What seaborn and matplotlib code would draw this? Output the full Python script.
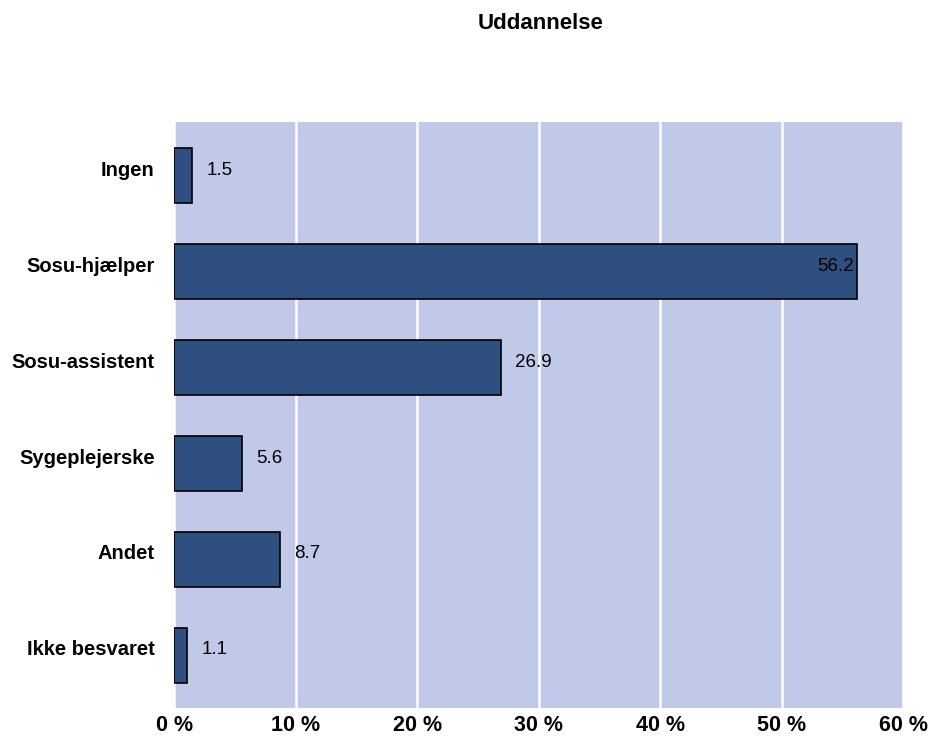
import pandas as pd
import matplotlib.pyplot as plt
import seaborn as sns

# data
categories = ['Ingen', 'Sosu-hjælper', 'Sosu-assistent', 'Sygeplejerske', 'Andet', 'Ikke besvaret']
values = [1.5, 56.2, 26.9, 5.6, 8.7, 1.1]
x_ticks = [0, 10, 20, 30, 40, 50, 60]
x_tick_labels = ['0 %', '10 %', '20 %', '30 %', '40 %', '50 %', '60 %']

df = pd.DataFrame({'uddannelse': categories, 'procent': values})

sns.set_theme(style="white")
plt.rcParams['font.family'] = ['Liberation Sans', 'DejaVu Sans']
plt.rcParams['text.color'] = 'black'
plt.rcParams['xtick.color'] = 'black'
plt.rcParams['ytick.color'] = 'black'

fig = plt.figure(figsize=(9.31, 7.4), dpi=100)
ax = fig.add_axes([0.187, 0.043, 0.783, 0.792])
ax.set_facecolor('#C0C9E7')

sns.barplot(x='procent', y='uddannelse', data=df, color='#2F4F80',
            edgecolor='black', linewidth=1.2, width=0.57, saturation=1, ax=ax)

ax.set_xlim(0, 60)
ax.set_ylim(5.55, -0.56)
ax.set_xticks(x_ticks)
ax.set_xticklabels(x_tick_labels, fontsize=15.5, fontweight='bold')
ax.tick_params(axis='y', length=0, labelleft=False)
ax.tick_params(axis='x', pad=5, length=0)
ax.xaxis.grid(True, color='white', linewidth=1.8)
ax.set_axisbelow(True)
for s in ax.spines.values():
    s.set_visible(False)
ax.set_xlabel('')
ax.set_ylabel('')

# category names, a little above the bar centre as in the reference
for i, cat in enumerate(categories):
    ax.annotate(cat, (0, i), xycoords=('axes fraction', 'data'), xytext=(-14, 4),
                textcoords='offset points', ha='right', va='center',
                fontsize=14.5, fontweight='bold')

for i, v in enumerate(values):
    if v > 40:
        ax.annotate(f'{v}', (v, i), xytext=(-2, 4), textcoords='offset points',
                    ha='right', va='center', fontsize=13.5, color='black')
    else:
        ax.annotate(f'{v}', (v, i), xytext=(10, 4), textcoords='offset points',
                    ha='left', va='center', fontsize=13.5, color='black')

fig.text(0.581, 0.968, 'Uddannelse', ha='center', va='center', fontsize=16, fontweight='bold')

fig.savefig('out.png', dpi=100)
